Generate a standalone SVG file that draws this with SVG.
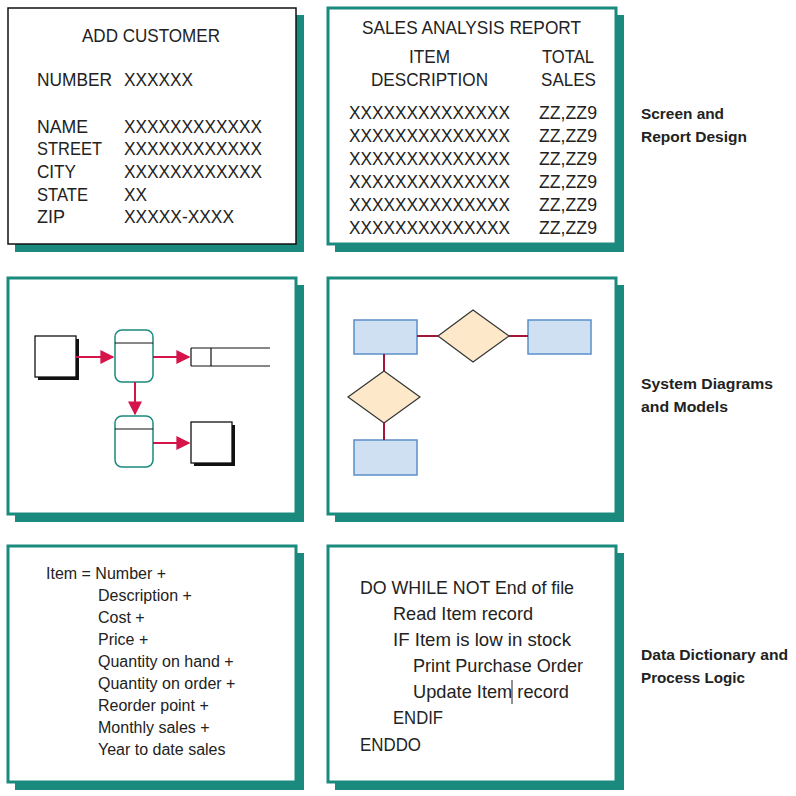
<svg xmlns="http://www.w3.org/2000/svg" width="796" height="796" viewBox="0 0 796 796">
<style>
.pn{fill:#fff;stroke:#1a8a7e;stroke-width:3}
.sh{fill:#1a8a7e}
text{font-family:"Liberation Sans",Arial,sans-serif;fill:#222}
.t{font-size:19px}
.m{font-size:16px}
.lb{font-size:15.5px;font-weight:bold}
.rl{stroke:#d4144a;stroke-width:2;fill:none}
.er{fill:#cfe0f3;stroke:#5b8fc9;stroke-width:1.5}
.dm{fill:#fde9c9;stroke:#333;stroke-width:1.2}
.ds{fill:#fff;stroke:#1a8a7e;stroke-width:1.5}
.bx{fill:#fff;stroke:#111;stroke-width:1.3}
</style>
<defs>
<marker id="a" viewBox="0 0 10 10" refX="9" refY="5" markerWidth="7" markerHeight="7" orient="auto"><path d="M0,0L10,5L0,10z" fill="#d4144a"/></marker>
</defs>
<g id="screen">
<rect class="sh" x="15" y="15" width="289" height="237"/>
<rect x="8" y="8" width="288" height="236" fill="#fff" stroke="#111" stroke-width="1.5"/>
<text class="t" x="82" y="42" textLength="138" lengthAdjust="spacingAndGlyphs">ADD CUSTOMER</text>
<text class="t" x="37" y="86" textLength="75" lengthAdjust="spacingAndGlyphs">NUMBER</text><text class="t" x="124" y="86" textLength="69" lengthAdjust="spacingAndGlyphs">XXXXXX</text>
<text class="t" x="37" y="133" textLength="51" lengthAdjust="spacingAndGlyphs">NAME</text><text class="t" x="124" y="133" textLength="138" lengthAdjust="spacingAndGlyphs">XXXXXXXXXXXX</text>
<text class="t" x="37" y="155" textLength="65" lengthAdjust="spacingAndGlyphs">STREET</text><text class="t" x="124" y="155" textLength="138" lengthAdjust="spacingAndGlyphs">XXXXXXXXXXXX</text>
<text class="t" x="37" y="178" textLength="39" lengthAdjust="spacingAndGlyphs">CITY</text><text class="t" x="124" y="178" textLength="138" lengthAdjust="spacingAndGlyphs">XXXXXXXXXXXX</text>
<text class="t" x="37" y="201" textLength="51" lengthAdjust="spacingAndGlyphs">STATE</text><text class="t" x="124" y="201" textLength="23" lengthAdjust="spacingAndGlyphs">XX</text>
<text class="t" x="37" y="223" textLength="28" lengthAdjust="spacingAndGlyphs">ZIP</text><text class="t" x="124" y="223" textLength="110" lengthAdjust="spacingAndGlyphs">XXXXX-XXXX</text>
</g>
<g id="report">
<rect class="sh" x="335" y="15" width="289" height="237"/>
<rect class="pn" x="328" y="8" width="288" height="236"/>
<text class="t" x="362" y="34" textLength="219" lengthAdjust="spacingAndGlyphs">SALES ANALYSIS REPORT</text>
<text class="t" x="409" y="63" textLength="41" lengthAdjust="spacingAndGlyphs">ITEM</text>
<text class="t" x="371" y="86" textLength="117" lengthAdjust="spacingAndGlyphs">DESCRIPTION</text>
<text class="t" x="542" y="63" textLength="52" lengthAdjust="spacingAndGlyphs">TOTAL</text>
<text class="t" x="541" y="86" textLength="55" lengthAdjust="spacingAndGlyphs">SALES</text>
<text class="t" x="349" y="119" textLength="161" lengthAdjust="spacingAndGlyphs">XXXXXXXXXXXXXX</text><text class="t" x="539" y="119" textLength="58" lengthAdjust="spacingAndGlyphs">ZZ,ZZ9</text>
<text class="t" x="349" y="142" textLength="161" lengthAdjust="spacingAndGlyphs">XXXXXXXXXXXXXX</text><text class="t" x="539" y="142" textLength="58" lengthAdjust="spacingAndGlyphs">ZZ,ZZ9</text>
<text class="t" x="349" y="165" textLength="161" lengthAdjust="spacingAndGlyphs">XXXXXXXXXXXXXX</text><text class="t" x="539" y="165" textLength="58" lengthAdjust="spacingAndGlyphs">ZZ,ZZ9</text>
<text class="t" x="349" y="188" textLength="161" lengthAdjust="spacingAndGlyphs">XXXXXXXXXXXXXX</text><text class="t" x="539" y="188" textLength="58" lengthAdjust="spacingAndGlyphs">ZZ,ZZ9</text>
<text class="t" x="349" y="211" textLength="161" lengthAdjust="spacingAndGlyphs">XXXXXXXXXXXXXX</text><text class="t" x="539" y="211" textLength="58" lengthAdjust="spacingAndGlyphs">ZZ,ZZ9</text>
<text class="t" x="349" y="234" textLength="161" lengthAdjust="spacingAndGlyphs">XXXXXXXXXXXXXX</text><text class="t" x="539" y="234" textLength="58" lengthAdjust="spacingAndGlyphs">ZZ,ZZ9</text>
</g>
<g id="label1"><text class="lb" x="641" y="119" textLength="83" lengthAdjust="spacingAndGlyphs">Screen and</text><text class="lb" x="641" y="142" textLength="106" lengthAdjust="spacingAndGlyphs">Report Design</text></g>
<g id="dfd">
<rect class="sh" x="15" y="285" width="289" height="237"/>
<rect class="pn" x="8" y="278" width="288" height="236"/>
<rect x="38" y="339" width="41" height="41" fill="#111"/>
<rect class="bx" x="35" y="336" width="41" height="41"/>
<rect class="ds" x="115" y="330" width="38" height="52" rx="7"/><line x1="115" y1="343" x2="153" y2="343" stroke="#111"/>
<path d="M191,348H270M191,366H270M191,348V366M211,348V366" stroke="#111" stroke-width="1.2" fill="none"/>
<rect class="ds" x="115" y="416" width="38" height="51" rx="7"/><line x1="115" y1="429" x2="153" y2="429" stroke="#111"/>
<rect x="194" y="425" width="41" height="41" fill="#111"/>
<rect class="bx" x="191" y="422" width="41" height="41"/>
</g>
<g id="erd">
<rect class="sh" x="335" y="285" width="289" height="237"/>
<rect class="pn" x="328" y="278" width="288" height="236"/>
<rect class="er" x="354" y="320" width="63" height="34"/>
<polygon class="dm" points="438,336 473,310 509,336 473,362"/>
<rect class="er" x="528" y="320" width="63" height="34"/>
<polygon class="dm" points="348,397 384,371 420,397 384,423"/>
<rect class="er" x="354" y="440" width="63" height="35"/>
</g>
<g id="label2"><text class="lb" x="641" y="389" textLength="132" lengthAdjust="spacingAndGlyphs">System Diagrams</text><text class="lb" x="641" y="412" textLength="87" lengthAdjust="spacingAndGlyphs">and Models</text></g>
<g id="dict">
<rect class="sh" x="15" y="553" width="289" height="237"/>
<rect class="pn" x="8" y="546" width="288" height="236"/>
<text class="m" x="46" y="579">Item = Number +</text>
<text class="m" x="98" y="601">Description +</text>
<text class="m" x="98" y="623">Cost +</text>
<text class="m" x="98" y="645">Price +</text>
<text class="m" x="98" y="667">Quantity on hand +</text>
<text class="m" x="98" y="689">Quantity on order +</text>
<text class="m" x="98" y="711">Reorder point +</text>
<text class="m" x="98" y="733">Monthly sales +</text>
<text class="m" x="98" y="755">Year to date sales</text>
</g>
<g id="logic">
<rect class="sh" x="335" y="553" width="289" height="237"/>
<rect class="pn" x="328" y="546" width="288" height="236"/>
<text class="t" x="360" y="594" textLength="214" lengthAdjust="spacingAndGlyphs">DO WHILE NOT End of file</text>
<text class="t" x="393" y="620" textLength="140" lengthAdjust="spacingAndGlyphs">Read Item record</text>
<text class="t" x="393" y="646" textLength="178" lengthAdjust="spacingAndGlyphs">IF Item is low in stock</text>
<text class="t" x="413" y="672" textLength="170" lengthAdjust="spacingAndGlyphs">Print Purchase Order</text>
<text class="t" x="413" y="698" textLength="156" lengthAdjust="spacingAndGlyphs">Update Item record</text>
<line x1="512" y1="680" x2="512" y2="704" stroke="#222"/>
<text class="t" x="393" y="724" textLength="50" lengthAdjust="spacingAndGlyphs">ENDIF</text>
<text class="t" x="360" y="751" textLength="61" lengthAdjust="spacingAndGlyphs">ENDDO</text>
</g>
<g id="label3"><text class="lb" x="641" y="660" textLength="147" lengthAdjust="spacingAndGlyphs">Data Dictionary and</text><text class="lb" x="641" y="683" textLength="104" lengthAdjust="spacingAndGlyphs">Process Logic</text></g>
<g id="connectors">
<line class="rl" x1="76" y1="357" x2="113" y2="357" marker-end="url(#a)"/>
<line class="rl" x1="153" y1="357" x2="189" y2="357" marker-end="url(#a)"/>
<line class="rl" x1="135" y1="382" x2="135" y2="414" marker-end="url(#a)"/>
<line class="rl" x1="153" y1="443" x2="189" y2="443" marker-end="url(#a)"/>
<path d="M417,336H438M509,336H528M384,354V371M384,423V440" stroke="#a3163a" stroke-width="2" fill="none"/>
</g>
</svg>
